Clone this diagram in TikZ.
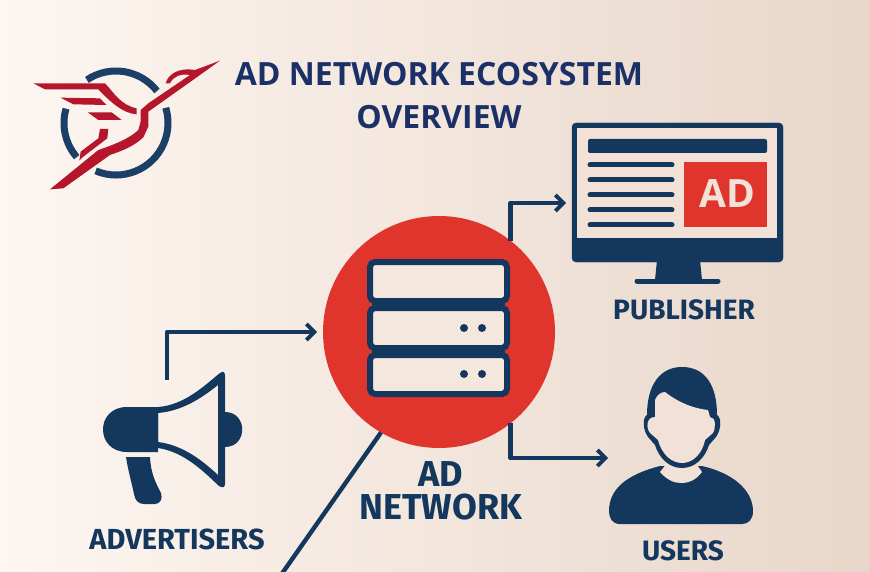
\documentclass[tikz,border=0pt]{standalone}
\usepackage{fontspec}
\usepackage{tikz}
\usetikzlibrary{arrows.meta}
\newfontfamily\titlefont{Open Sans}
\newfontfamily\labelfont{Fira Sans}

\definecolor{navy}{HTML}{14375E}
\definecolor{titleblue}{HTML}{1C3068}
\definecolor{adred}{HTML}{E0352C}
\definecolor{logored}{HTML}{B5162C}
\definecolor{ringblue}{HTML}{1B3F66}
\definecolor{cream}{HTML}{F3E7DE}
\definecolor{screencream}{HTML}{F1E1D6}
\definecolor{bgleft}{HTML}{FDF6F1}
\definecolor{bgright}{HTML}{E8D6C9}

\tikzset{
    flow/.style={draw=navy, line width=4.4pt, -{Straight Barb[length=8pt,width=16pt,line width=3.8pt]}, line join=round},
    iconlabel/.style={text=navy, font=\labelfont\bfseries\fontsize{28}{33}\selectfont, align=center, inner sep=0pt},
    titletext/.style={text=titleblue, font=\titlefont\bfseries\fontsize{32}{43}\selectfont, align=center, inner sep=0pt},
    rack/.style={draw=navy, fill=cream, line width=6pt, rounded corners=5pt},
    textline/.style={draw=navy, line width=5pt, line cap=round},
    logoring/.style={draw=ringblue, line width=7pt},
    logofeather/.style={fill=logored}
}

\begin{document}
\begin{tikzpicture}[x=1pt, y=-1pt]
    \useasboundingbox (0,0) rectangle (870,572);
    \clip (0,0) rectangle (870,572);
    \shade[left color=bgleft, right color=bgright] (0,0) rectangle (870,572);

    % logo
    \draw[logoring] ([shift={(124:52pt)}]116,123) arc[start angle=124, end angle=38, radius=52pt];
    \draw[logoring] ([shift={(164:52pt)}]116,123) arc[start angle=164, end angle=221, radius=52pt];
    \draw[logoring] ([shift={(247:52pt)}]116,123) arc[start angle=247, end angle=377, radius=52pt];
    \begin{scope}[shift={(20,50)}, x=0.3333pt, y=-0.3333pt]
        \fill[logofeather] (90,418) -- (235,300) .. controls (280,285) and (330,265) .. (355,240) -- (362,215) -- (362,180) -- (385,160) -- (510,75)
            .. controls (480,70) and (460,80) .. (450,100) -- (437,100) .. controls (445,70) and (480,52) .. (525,60) -- (600,32) -- (540,75) -- (385,185) -- (385,230) -- (370,262)
            .. controls (345,285) and (320,298) .. (270,315) -- (130,415) -- cycle;
        \fill[logofeather] (40,100) -- (255,100) .. controls (280,125) and (300,165) .. (350,175) -- (350,193) .. controls (310,190) and (275,160) .. (235,118) -- (75,118) -- cycle;
        \fill[logofeather] (122,143) -- (240,145) -- (260,165) -- (160,163) -- cycle;
        \fill[logofeather] (203,187) -- (275,187) -- (305,210) -- (235,210) -- cycle;
        \fill[logofeather] (240,237) -- (265,237) -- (262,265) -- (190,320) -- (178,332) -- (182,305) -- (235,265) -- cycle;
    \end{scope}

    \node[titletext] (title) at (439,96) {AD NETWORK ECOSYSTEM\\OVERVIEW};

    % hub
    \node[circle, fill=adred, minimum size=232pt, inner sep=0pt, outer sep=0pt] (adnet) at (439,332) {};
    \node[iconlabel, font=\labelfont\bfseries\fontsize{36}{33}\selectfont] (adnetlabel) at (441,491) {AD\\NETWORK};

    \coordinate (megatop) at (167,380);
    \coordinate (adnetin) at (317,332);
    \coordinate (publisherin) at (566,203);
    \coordinate (usersin) at (608,458);
    \coordinate (adnettail) at (281,575);

    \draw[flow] (megatop) |- (adnetin);
    \draw[flow] (adnet.52) |- (publisherin);
    \draw[flow] (adnet.-52) |- (usersin);
    \draw[draw=navy, line width=4.4pt] (adnet.240) -- (adnettail);

    % server
    \draw[rack] (370,262) rectangle (507,301);
    \draw[rack] (370,308) rectangle (507,348);
    \draw[rack] (370,355) rectangle (507,394);
    \fill[navy] (372,299) rectangle (505,311);
    \fill[navy] (372,346) rectangle (505,358);
    \foreach \px in {464,482} {
        \fill[navy] (\px,328) circle (4pt);
        \fill[navy] (\px,374) circle (4pt);
    }

    % publisher
    \filldraw[navy, rounded corners=4pt] (572,123) rectangle (783,262);
    \fill[screencream] (577,128) rectangle (777,238);
    \fill[navy, rounded corners=2pt] (588,139) rectangle (767,153);
    \foreach \ly in {165,180,195,210,225} {
        \draw[textline] (590,\ly) -- (672,\ly);
    }
    \fill[adred] (684,162) rectangle (767,227);
    \node[text=screencream, font=\titlefont\bfseries\fontsize{39}{39}\selectfont, inner sep=0pt] (adbox) at (727,194) {AD};
    \fill[navy] (657,260) -- (700,260) -- (702,280) -- (655,280) -- cycle;
    \draw[textline] (637,281) -- (718,281);
    \node[iconlabel] (publisherlabel) at (684,310) {PUBLISHER};

    % advertisers
    \fill[navy] (158,407) -- (127,407) .. controls (95,407) and (95,452) .. (127,452) -- (158,452) -- cycle;
    \fill[navy] (225,412) .. controls (248,412) and (248,447) .. (225,447) -- cycle;
    \fill[navy, even odd rule] (158,407) .. controls (185,405) and (205,385) .. (220,373) .. controls (224,370) and (225,373) .. (225,376) -- (225,484) .. controls (225,488) and (222,488) .. (219,486)
            .. controls (205,473) and (185,452) .. (158,448) -- cycle
        (158,413) .. controls (183,411) and (203,397) .. (218,385) -- (218,475) .. controls (203,461) and (183,445) .. (158,442) -- cycle;
    \fill[navy] (126,457) -- (150,457) .. controls (151,475) and (156,483) .. (161,493) .. controls (163,499) and (160,504) .. (155,504) -- (144,504) .. controls (138,504) and (135,500) .. (134,494) .. controls (131,480) and (128,470) .. (126,457) -- cycle;
    \node[iconlabel, font=\labelfont\bfseries\fontsize{29}{33}\selectfont] (advertiserslabel) at (177,539) {ADVERTISERS};

    % users
    \fill[navy] (609,511) .. controls (609,490) and (625,475) .. (660,466) -- (702,466) .. controls (740,475) and (753,495) .. (753,511) .. controls (753,520) and (748,524) .. (742,524) -- (620,524) .. controls (612,524) and (609,518) .. (609,511) -- cycle;
    \fill[screencream] (660,472) .. controls (667,480) and (674,483) .. (681,483) .. controls (689,483) and (696,480) .. (702,472) -- (695,462) -- (668,462) -- cycle;
    \fill[navy] (647,415) .. controls (647,385) and (660,367) .. (682,367) .. controls (705,367) and (717,385) .. (717,415)
        .. controls (722,418) and (721,430) .. (716,437) -- (709,445) .. controls (705,458) and (695,468) .. (682,468) .. controls (669,468) and (659,458) .. (655,445) -- (648,437) .. controls (643,430) and (642,418) .. (647,415) -- cycle;
    \fill[screencream] (655,400) .. controls (657,395) and (661,392) .. (665,392) .. controls (675,400) and (690,408) .. (708,410) -- (710,417) .. controls (716,417) and (716,428) .. (713,433) -- (705,440)
        .. controls (702,455) and (692,463) .. (682,463) .. controls (672,463) and (662,455) .. (658,440) -- (650,433) .. controls (646,428) and (646,417) .. (655,417) -- cycle;
    \node[iconlabel] (userslabel) at (683,551) {USERS};
\end{tikzpicture}
\end{document}
